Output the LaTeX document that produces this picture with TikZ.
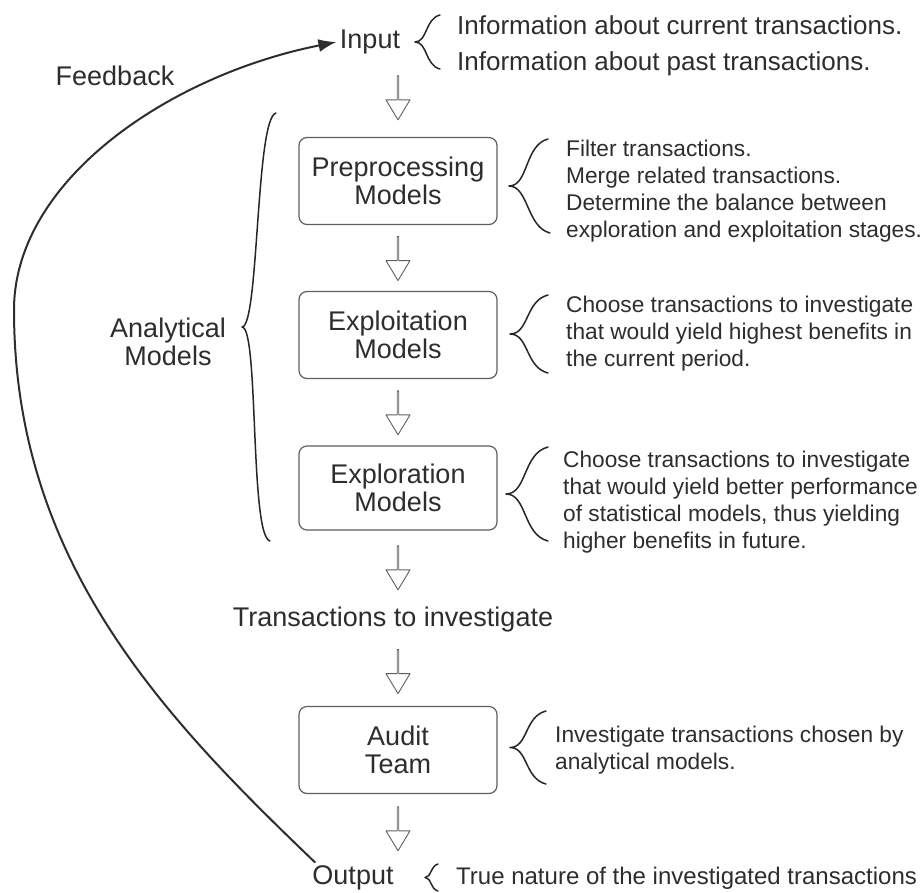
\documentclass[tikz,border=0pt]{standalone}
\usepackage{fontspec}
\setmainfont{Liberation Sans}
\usetikzlibrary{calc,shapes.arrows,arrows.meta}

\definecolor{inkgray}{RGB}{45,45,45}
\definecolor{boxgray}{RGB}{95,95,95}

\newcommand{\bigtext}{\fontsize{27}{28}\selectfont}
\newcommand{\smalltext}{\fontsize{22.7}{27}\selectfont}

% curly brace with its tip on the left: top end, bottom end, depth
\newcommand{\curly}[3]{%
  \draw[curlyline] let \p1=(#1), \p2=(#2), \p3=($(#1)!0.5!(#2)$) in
    (\p1) .. controls +(-0.6*#3,0.15*#3) and +(0.5*#3,0) .. (\x1-#3pt,\y3)
          .. controls +(0.5*#3,0) and +(-0.6*#3,-0.15*#3) .. (\p2);}

\begin{document}
\begin{tikzpicture}[x=1pt,y=-1pt,line cap=round,line join=round,
  font=\bigtext,text=inkgray,
  box/.style={draw=boxgray,line width=1.2pt,rounded corners=8pt,
    minimum width=198pt,minimum height=87pt,align=center},
  note/.style={font=\smalltext,align=left,anchor=west,inner sep=0pt},
  flow/.style={single arrow,draw=boxgray,line width=0.9pt,
    shape border rotate=270,minimum height=44pt,minimum width=24pt,
    single arrow head extend=7pt,single arrow tip angle=62,inner sep=0pt},
  curlyline/.style={draw=black!85,line width=1.5pt},
  loopback/.style={draw=inkgray,line width=2pt,-{Latex[length=18pt,width=13pt]}}]
  \useasboundingbox (0,0) rectangle (921,892);

  % main column
  \node (input) at (370,42) {Input};
  \node[box] (pre) at (398,181) {Preprocessing\\Models};
  \node[box] (expt) at (398,335) {Exploitation\\Models};
  \node[box,minimum height=84pt] (expr) at (398,488) {Exploration\\Models};
  \node (trans) at (393,620) {Transactions to investigate};
  \node[box] (audit) at (398,750) {Audit\\Team};
  \node (output) at (353,878) {Output};

  % side labels
  \node (feedback) at (115,76) {Feedback};
  \node[align=center] (analytical) at (168,342) {Analytical\\Models};

  % notes
  \node[note,font=\fontsize{26}{36}\selectfont] (inptxt) at (457,46)
    {Information about current transactions.\\Information about past transactions.};
  \node[note] (pretxt) at (566,191) {Filter transactions.\\Merge related transactions.\\
    Determine the balance between\\exploration and exploitation stages.};
  \node[note] (expttxt) at (566,334) {Choose transactions to investigate\\
    that would yield highest benefits in\\the current period.};
  \node[note] (exprtxt) at (563,502) {Choose transactions to investigate\\
    that would yield better performance\\of statistical models, thus yielding\\
    higher benefits in future.};
  \node[note] (audtxt) at (555,750) {Investigate transactions chosen by\\analytical models.};
  \node[note,font=\fontsize{24}{27}\selectfont] (outtxt) at (456,878)
    {True nature of the investigated transactions};

  % hollow arrows
  \node[flow] (a1) at ($(pre.north)!0.5!(pre.north |- input.south)$) {};
  \node[flow] (a2) at ($(pre.south)!0.5!(expt.north)$) {};
  \node[flow] (a3) at ($(expt.south)!0.5!(expr.north)$) {};
  \node[flow] (a4) at ($(expr.south)!0.5!(expr.south |- trans.north)$) {};
  \node[flow] (a5) at ($(audit.north)!0.5!(audit.north |- trans.south)$) {};
  \node[flow] (a6) at ($(audit.south)!0.5!(audit.south |- output.north)$) {};

  % braces
  \curly{440,15}{440,69}{25}
  \curly{548,139}{550,233}{39}
  \curly{548,295}{548,373}{38}
  \curly{548,447}{548,541}{42}
  \curly{546,711}{546,784}{36}
  \curly{438,864}{438,891}{13}
  \curly{276,113}{270,541}{34}

  % feedback loop
  \coordinate (turn) at (14,310);
  \draw[loopback] ([xshift=6pt]output.north west) .. controls (162,716) and (14,560) .. (turn)
    .. controls (14,180) and (170,75) .. (input.west);
\end{tikzpicture}
\end{document}
